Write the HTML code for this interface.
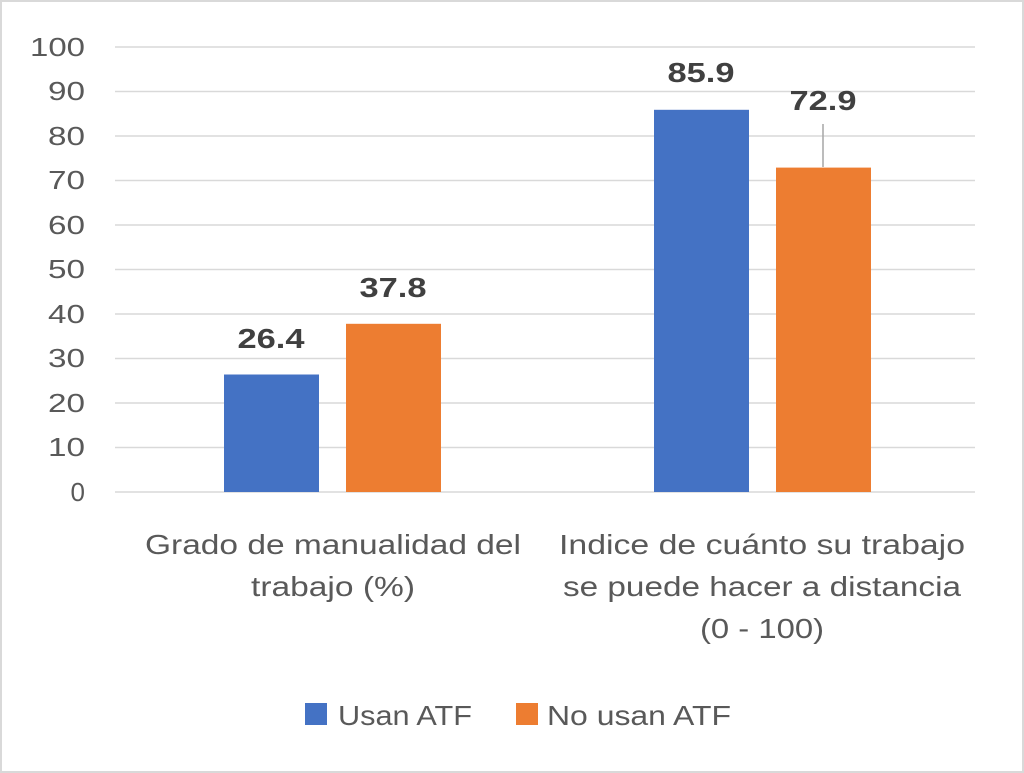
<!DOCTYPE html>
<html><head><meta charset="utf-8"><style>
body{margin:0;background:#fff}
svg{display:block}
text{font-family:"Liberation Sans",sans-serif}
</style></head><body>
<svg width="1024" height="773" viewBox="0 0 1024 773">
<rect x="1" y="1" width="1022" height="771" fill="#fff" stroke="#d9d9d9" stroke-width="2"/>
<g stroke="#d9d9d9" stroke-width="1.5">
<line x1="115" x2="975" y1="47" y2="47"/><line x1="115" x2="975" y1="91.5" y2="91.5"/>
<line x1="115" x2="975" y1="136" y2="136"/><line x1="115" x2="975" y1="180.5" y2="180.5"/>
<line x1="115" x2="975" y1="225" y2="225"/><line x1="115" x2="975" y1="269.5" y2="269.5"/>
<line x1="115" x2="975" y1="314" y2="314"/><line x1="115" x2="975" y1="358.5" y2="358.5"/>
<line x1="115" x2="975" y1="403" y2="403"/><line x1="115" x2="975" y1="447.5" y2="447.5"/>
<line x1="115" x2="975" y1="492" y2="492"/>
</g>
<g fill="#595959" font-size="26" text-anchor="end" lengthAdjust="spacingAndGlyphs">
<text x="85" y="56" textLength="55" lengthAdjust="spacingAndGlyphs">100</text>
<text x="85" y="100" textLength="37" lengthAdjust="spacingAndGlyphs">90</text>
<text x="85" y="145" textLength="37" lengthAdjust="spacingAndGlyphs">80</text>
<text x="85" y="189" textLength="37" lengthAdjust="spacingAndGlyphs">70</text>
<text x="85" y="234" textLength="37" lengthAdjust="spacingAndGlyphs">60</text>
<text x="85" y="278" textLength="37" lengthAdjust="spacingAndGlyphs">50</text>
<text x="85" y="323" textLength="37" lengthAdjust="spacingAndGlyphs">40</text>
<text x="85" y="367" textLength="37" lengthAdjust="spacingAndGlyphs">30</text>
<text x="85" y="412" textLength="37" lengthAdjust="spacingAndGlyphs">20</text>
<text x="85" y="456" textLength="37" lengthAdjust="spacingAndGlyphs">10</text>
<text x="85" y="501">0</text>
</g>
<rect x="224" y="374.5" width="95" height="117.5" fill="#4472c4"/>
<rect x="346" y="323.8" width="95" height="168.2" fill="#ed7d31"/>
<rect x="654" y="109.8" width="95" height="382.2" fill="#4472c4"/>
<rect x="776" y="167.6" width="95" height="324.4" fill="#ed7d31"/>
<line x1="823" y1="124" x2="823" y2="167" stroke="#a6a6a6" stroke-width="1.5"/>
<g fill="#404040" font-size="28" font-weight="bold" text-anchor="middle">
<text x="271" y="348" textLength="67" lengthAdjust="spacingAndGlyphs">26.4</text>
<text x="393" y="297" textLength="67" lengthAdjust="spacingAndGlyphs">37.8</text>
<text x="701" y="82" textLength="67" lengthAdjust="spacingAndGlyphs">85.9</text>
<text x="823" y="110" textLength="67" lengthAdjust="spacingAndGlyphs">72.9</text>
</g>
<g fill="#595959" font-size="28" text-anchor="middle">
<text x="333" y="554" textLength="376" lengthAdjust="spacingAndGlyphs">Grado de manualidad del</text>
<text x="333" y="596" textLength="164" lengthAdjust="spacingAndGlyphs">trabajo (%)</text>
<text x="762" y="554" textLength="406" lengthAdjust="spacingAndGlyphs">Indice de cuánto su trabajo</text>
<text x="762" y="596" textLength="398" lengthAdjust="spacingAndGlyphs">se puede hacer a distancia</text>
<text x="762" y="638" textLength="124" lengthAdjust="spacingAndGlyphs">(0 - 100)</text>
</g>
<rect x="305" y="703" width="22" height="22" fill="#4472c4"/>
<text x="338" y="725" font-size="28" fill="#595959" textLength="134" lengthAdjust="spacingAndGlyphs">Usan ATF</text>
<rect x="516" y="703" width="22" height="22" fill="#ed7d31"/>
<text x="547" y="725" font-size="28" fill="#595959" textLength="184" lengthAdjust="spacingAndGlyphs">No usan ATF</text>
</svg>
</body></html>
